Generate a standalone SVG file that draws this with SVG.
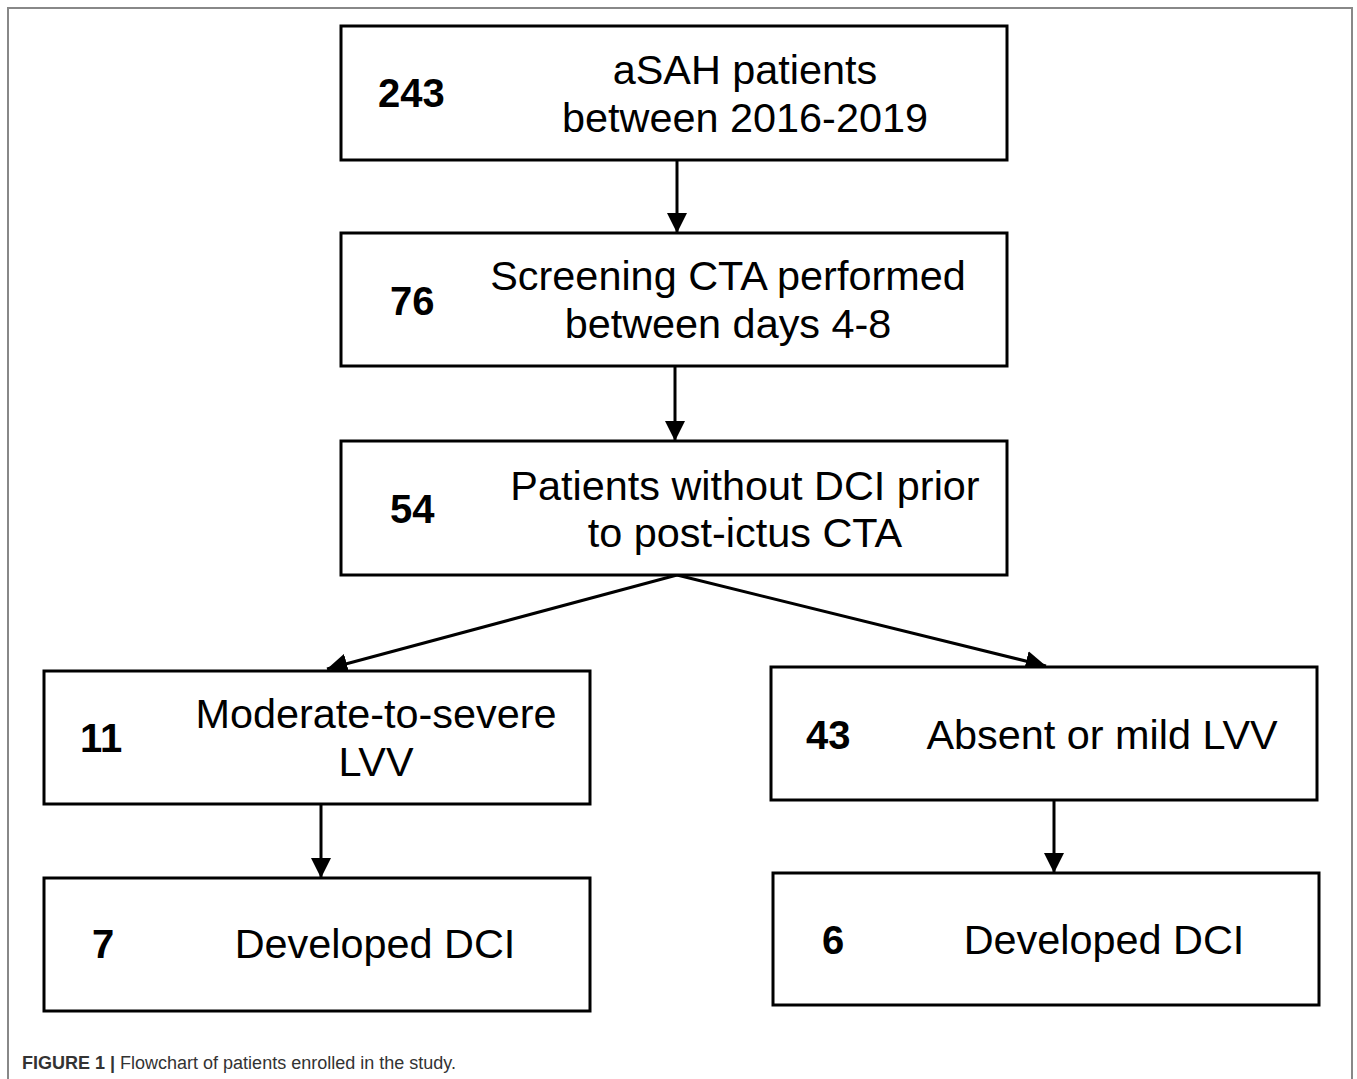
<svg xmlns="http://www.w3.org/2000/svg" width="1357" height="1079" viewBox="0 0 1357 1079">
<style>
.box{fill:#fff;stroke:#000;stroke-width:3}
.num{font-family:"Liberation Sans",Arial,sans-serif;font-weight:bold;font-size:40px;fill:#000}
.lbl{font-family:"Liberation Sans",Arial,sans-serif;font-size:41.4px;fill:#000;text-anchor:middle}
.edge{stroke:#000;stroke-width:3;fill:none;marker-end:url(#ah)}
.cap{font-family:"Liberation Sans",Arial,sans-serif;font-size:18px;fill:#333}
</style>
<defs>
<marker id="ah" viewBox="0 0 10 10" refX="10" refY="5" markerWidth="6.8" markerHeight="6.8" markerUnits="strokeWidth" orient="auto">
<path d="M0,0 L10,5 L0,10 z" fill="#000"/>
</marker>
</defs>
<rect width="1357" height="1079" fill="#fff"/>
<path d="M8,1079 V8 H1352 V1079" fill="none" stroke="#888" stroke-width="2"/>
<g id="connectors">
<line class="edge" x1="677" y1="160" x2="677" y2="233"/>
<line class="edge" x1="675" y1="366" x2="675" y2="441"/>
<line class="edge" x1="677" y1="575" x2="327" y2="669"/>
<line class="edge" x1="677" y1="575" x2="1046" y2="666"/>
<line class="edge" x1="321" y1="804" x2="321" y2="878"/>
<line class="edge" x1="1054" y1="800" x2="1054" y2="873"/>
</g>
<g id="n243">
<rect class="box" x="341" y="26" width="666" height="134"/>
<text class="num" x="378" y="107">243</text>
<text class="lbl" x="745" y="84">aSAH patients</text>
<text class="lbl" x="745" y="132">between 2016-2019</text>
</g>
<g id="n76">
<rect class="box" x="341" y="233" width="666" height="133"/>
<text class="num" x="390" y="315">76</text>
<text class="lbl" x="728" y="290">Screening CTA performed</text>
<text class="lbl" x="728" y="338">between days 4-8</text>
</g>
<g id="n54">
<rect class="box" x="341" y="441" width="666" height="134"/>
<text class="num" x="390" y="523">54</text>
<text class="lbl" x="745" y="500">Patients without DCI prior</text>
<text class="lbl" x="745" y="547">to post-ictus CTA</text>
</g>
<g id="n11">
<rect class="box" x="44" y="671" width="546" height="133"/>
<text class="num" x="80" y="752">11</text>
<text class="lbl" x="376" y="728">Moderate-to-severe</text>
<text class="lbl" x="376" y="776">LVV</text>
</g>
<g id="n43">
<rect class="box" x="771" y="667" width="546" height="133"/>
<text class="num" x="806" y="749">43</text>
<text class="lbl" x="1102" y="749">Absent or mild LVV</text>
</g>
<g id="n7">
<rect class="box" x="44" y="878" width="546" height="133"/>
<text class="num" x="92" y="958">7</text>
<text class="lbl" x="375" y="958">Developed DCI</text>
</g>
<g id="n6">
<rect class="box" x="773" y="873" width="546" height="132"/>
<text class="num" x="822" y="954">6</text>
<text class="lbl" x="1104" y="954">Developed DCI</text>
</g>
<text class="cap" x="22" y="1069"><tspan font-weight="bold">FIGURE 1 |</tspan> Flowchart of patients enrolled in the study.</text>
</svg>
